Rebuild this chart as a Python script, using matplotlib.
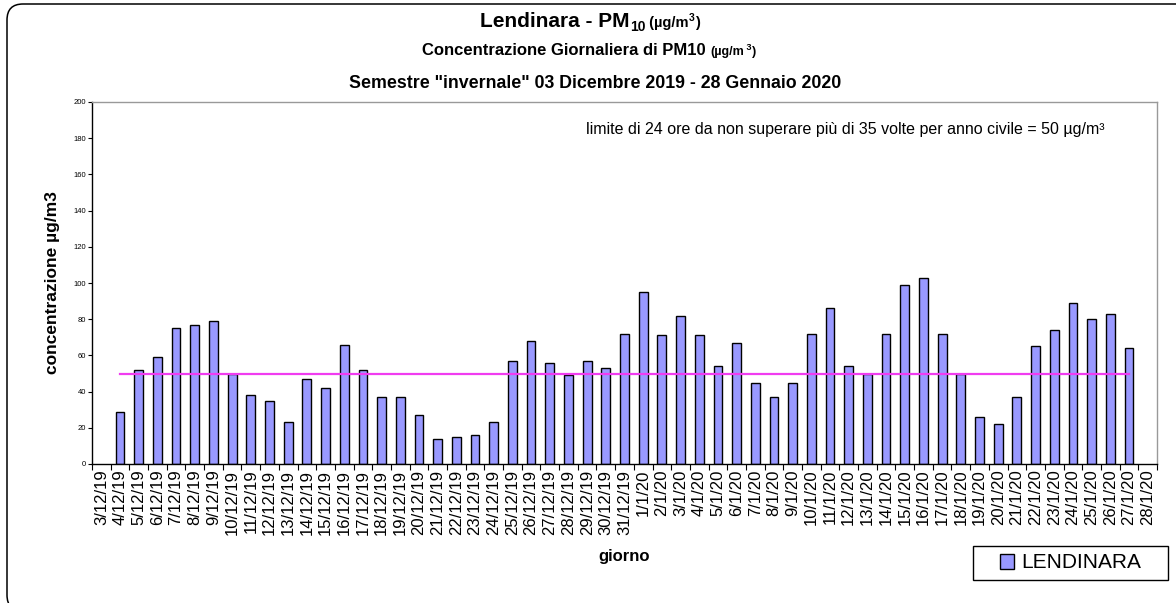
import numpy as np
import matplotlib
matplotlib.use("Agg")
import matplotlib.pyplot as plt
from matplotlib.patches import FancyBboxPatch, Rectangle
from matplotlib.transforms import IdentityTransform

plt.rcParams['font.family'] = ['Liberation Sans', 'DejaVu Sans']

# ---------------- data ----------------
days = (["3/12/19", "4/12/19", "5/12/19", "6/12/19", "7/12/19", "8/12/19", "9/12/19",
         "10/12/19", "11/12/19", "12/12/19", "13/12/19", "14/12/19", "15/12/19",
         "16/12/19", "17/12/19", "18/12/19", "19/12/19", "20/12/19", "21/12/19",
         "22/12/19", "23/12/19", "24/12/19", "25/12/19", "26/12/19", "27/12/19",
         "28/12/19", "29/12/19", "30/12/19", "31/12/19"] +
        [f"{d}/1/20" for d in range(1, 29)])

pm10_dec = [np.nan, 29, 52, 59, 75, 77, 79, 50, 38, 35, 23, 47, 42, 66, 52, 37, 37, 27,
            14, 15, 16, 23, 57, 68, 56, 49, 57, 53, 72]
pm10_jan = [95, 71, 82, 71, 54, 67, 45, 37, 45, 72, 86, 54, 50, 72, 99, 103, 72, 50,
            26, 22, 37, 65, 74, 89, 80, 83, 64, np.nan]
pm10 = np.array(pm10_dec + pm10_jan, dtype=float)

limit_value = 50
limit_first, limit_last = "4/12/19", "27/1/20"

y_ticks = list(range(0, 201, 20))

# ---------------- figure ----------------
W, H, DPI = 1176, 603, 100
fig = plt.figure(figsize=(W / DPI, H / DPI), dpi=DPI)
fig.patch.set_facecolor("white")

# outer rounded border (pixel coordinates)
border = FancyBboxPatch((7, -8), 1190, 603 - 4 + 8, boxstyle="round,pad=0,rounding_size=16",
                        transform=IdentityTransform(), facecolor="none",
                        edgecolor="black", linewidth=1.1)
fig.patches.append(border)

ax_l, ax_r, ax_t, ax_b = 92, 1157, 102, 464
ax = fig.add_axes([ax_l / W, 1 - ax_b / H, (ax_r - ax_l) / W, (ax_b - ax_t) / H])

x = np.arange(len(days))
bar_color = "#9999FF"
ax.bar(x, pm10, width=0.47, color=bar_color, edgecolor="black", linewidth=1.0, zorder=2)

i0, i1 = days.index(limit_first), days.index(limit_last)
ax.plot(x[i0:i1 + 1], [limit_value] * (i1 - i0 + 1), color="#F03CF0", linewidth=1.6, zorder=3)

ax.set_xlim(-0.5, len(days) - 0.5)
ax.set_ylim(0, 200)
ax.set_yticks(y_ticks)
ax.tick_params(axis="y", labelsize=5.5, length=3, width=0.8, pad=1.5, colors="black")
ax.set_xticks(x)
ax.set_xticklabels(days, rotation=90, fontsize=12)
ax.tick_params(axis="x", which="major", length=0, pad=4)
ax.set_xticks(np.arange(-0.5, len(days)), minor=True)
ax.tick_params(axis="x", which="minor", length=4, width=0.8)

for s in ["top", "right"]:
    ax.spines[s].set_color("#999999")
    ax.spines[s].set_linewidth(1.0)
for s in ["bottom", "left"]:
    ax.spines[s].set_color("black")
    ax.spines[s].set_linewidth(1.0)

ax.set_ylabel("concentrazione µg/m3", fontsize=12.5, fontweight="bold")
ax.yaxis.set_label_coords((60 - ax_l) / (ax_r - ax_l), 0.5)
ax.set_xlabel("giorno", fontsize=12, fontweight="bold")
ax.xaxis.set_label_coords(0.5, -0.235)

ax.text(0.951, 0.925,
        "limite di 24 ore da non superare più di 35 volte per anno civile = 50 µg/m³",
        transform=ax.transAxes, ha="right", va="center", fontsize=11.5)

# ---------------- titles built from pieces ----------------
renderer = fig.canvas.get_renderer()


def title_line(pieces, cx, baseline_px):
    texts = []
    for txt, size, dy in pieces:
        t = fig.text(0, 0, txt, fontsize=size, fontweight="bold", va="baseline", ha="left",
                     transform=IdentityTransform())
        texts.append((t, dy))
    widths = [t.get_window_extent(renderer).width for t, _ in texts]
    total = sum(widths)
    xpos = cx - total / 2
    for (t, dy), w in zip(texts, widths):
        t.set_position((xpos, H - baseline_px + dy))
        xpos += w


title_line([("Lendinara - PM", 15, 0), ("10", 10, -4), (" (µg/m", 10.5, 0), ("3", 7.5, 6), (")", 10.5, 0)],
           590, 27)
title_line([("Concentrazione Giornaliera di PM10 ", 12, 0), ("(µg/m", 9, 0), (" 3", 6.5, 5), (")", 9, 0)],
           589, 55)
title_line([('Semestre "invernale" 03 Dicembre 2019 - 28 Gennaio 2020', 12.8, 0)], 595, 88)

# ---------------- legend ----------------
lx0, ly0, lx1, ly1 = 973, 546, 1168, 580
fig.patches.append(Rectangle((lx0, H - ly1), lx1 - lx0, ly1 - ly0, transform=IdentityTransform(),
                             facecolor="white", edgecolor="black", linewidth=1.0))
handle = Rectangle((0, 0), 1, 1, facecolor=bar_color, edgecolor="black", linewidth=1.0)
leg = fig.legend([handle], ["LENDINARA"], loc="center",
                 bbox_to_anchor=((lx0 + lx1) / 2 / W, 1 - (ly0 + ly1) / 2 / H),
                 frameon=False, fontsize=15, handlelength=0.7, handleheight=0.7,
                 handletextpad=0.35, borderpad=0)

fig.savefig("out.png", dpi=DPI)
